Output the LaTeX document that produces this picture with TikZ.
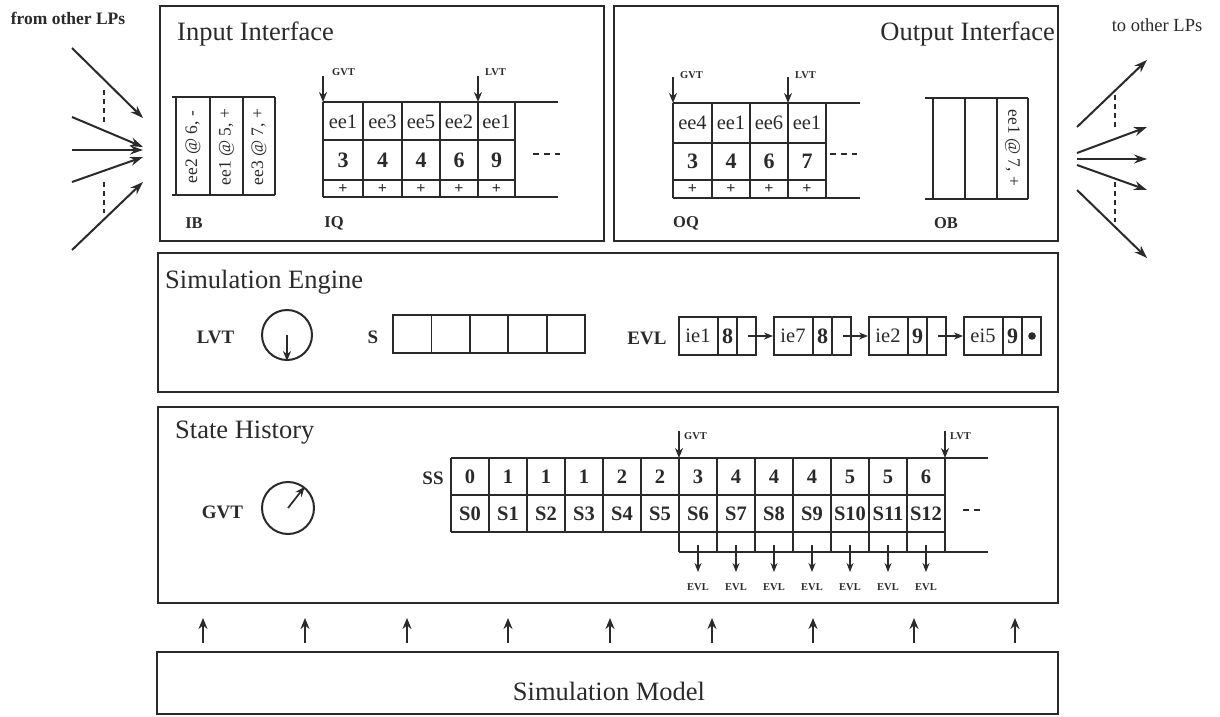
\documentclass[tikz,border=0pt]{standalone}
\usepackage{fontspec}
\setmainfont{Liberation Serif}
\usetikzlibrary{arrows.meta,calc}
\definecolor{ink}{HTML}{2A2A2A}
\newcommand\myfs[1]{\fontsize{#1}{#1}\selectfont}
\begin{document}
\begin{tikzpicture}[x=1pt,y=-1pt,
  panel/.style={draw=ink, line width=2.6pt, inner sep=0pt},
  grid/.style={draw=ink, line width=1.8pt},
  title/.style={font=\myfs{26.5}, text=ink, inner sep=0pt},
  lab/.style={font=\myfs{19}\bfseries, text=ink, inner sep=0pt},
  sublab/.style={font=\myfs{16.5}\bfseries, text=ink, inner sep=0pt},
  tiny/.style={font=\myfs{10.5}\bfseries, text=ink, inner sep=0pt},
  cell/.style={font=\myfs{20.5}, text=ink, inner sep=0pt},
  bcell/.style={font=\myfs{20.5}\bfseries, text=ink, inner sep=0pt},
  numcell/.style={font=\myfs{22}\bfseries, text=ink, inner sep=0pt},
  pluscell/.style={font=\myfs{16}\bfseries, text=ink, inner sep=0pt},
  rot/.style={font=\myfs{17.5}, text=ink, inner sep=0pt},
  arr/.style={draw=ink, line width=2pt, -{Stealth[length=13pt,width=9pt]}},
  marr/.style={draw=ink, line width=2.2pt, -{Stealth[length=11pt,width=9pt]}},
  sarr/.style={draw=ink, line width=1.7pt, -{Stealth[length=10pt,width=8pt]}},
  larr/.style={draw=ink, line width=1.5pt, -{Stealth[length=9pt,width=7pt]}},
  dsh/.style={draw=ink, line width=2pt, dash pattern=on 5pt off 4pt},
  dots/.style={draw=ink, line width=2pt, dash pattern=on 6pt off 5pt},
]
\useasboundingbox (0,0) rectangle (1220,717);

% ---------------- panels ----------------
\node[panel, minimum width=444pt, minimum height=235pt] (inp) at (382,123.5) {};
\node[panel, minimum width=444pt, minimum height=235pt] (outp) at (836,123.5) {};
\node[panel, minimum width=900pt, minimum height=139pt] (eng) at (608,322.5) {};
\node[panel, minimum width=900pt, minimum height=196pt] (hist) at (608,505) {};
\node[panel, minimum width=901pt, minimum height=62pt] (model) at (607.5,683) {};

\node[title, anchor=base west] (inpT) at (177,41) {Input Interface};
\node[title, anchor=base east] (outT) at (1055,41) {Output Interface};
\node[title, anchor=base west] (engT) at (165,288) {Simulation Engine};
\node[title, anchor=base west] (histT) at (175,438) {State History};
\node[title, anchor=base] (modT) at (609,700) {Simulation Model};

% ---------------- other LPs ----------------
\node[font=\myfs{17.5}\bfseries, text=ink, inner sep=0pt] (fromL) at (68,18) {from other LPs};
\node[font=\myfs{18.5}, text=ink, inner sep=0pt] (toL) at (1157,25) {to other LPs};
\foreach \ya/\yb [count=\i] in {48/118,117/147,150/150,182/157,250/182}{
  \coordinate (ls\i) at (72,\ya);
  \coordinate (le\i) at (143,\yb);
  \draw[arr] (ls\i) -- (le\i);
}
\coordinate (ld1) at (104,90); \coordinate (ld2) at (104,123);
\coordinate (ld3) at (104,182); \coordinate (ld4) at (104,213);
\draw[dsh] (ld1) -- (ld2); \draw[dsh] (ld3) -- (ld4);
\foreach \ya/\yb [count=\i] in {127/60,153/127,159/159,165/190,190/258}{
  \coordinate (rs\i) at (1077,\ya);
  \coordinate (re\i) at (1147,\yb);
  \draw[arr] (rs\i) -- (re\i);
}
\coordinate (rd1) at (1115,95); \coordinate (rd2) at (1115,127);
\coordinate (rd3) at (1115,182); \coordinate (rd4) at (1115,222);
\draw[dsh] (rd1) -- (rd2); \draw[dsh] (rd3) -- (rd4);

% ---------------- Input buffer IB ----------------
\draw[grid] (172,97) -- (275,97);
\draw[grid] (172,195) -- (275,195);
\foreach \x in {176,210,243,275} \draw[grid] (\x,97) -- (\x,195);
\node[rot, rotate=90] (ib1) at (193,147) {ee2 @ 6, -};
\node[rot, rotate=90] (ib2) at (226.5,147) {ee1 @ 5, +};
\node[rot, rotate=90] (ib3) at (259,147) {ee3 @ 7, +};
\node[sublab] (ibL) at (194,223) {IB};

% ---------------- Input queue IQ ----------------
\draw[grid] (323,102) -- (558,102);
\draw[grid] (323,197) -- (558,197);
\draw[grid] (323,140) -- (515,140);
\draw[grid] (323,180) -- (515,180);
\foreach \x in {323,363,402,440,478,515} \draw[grid] (\x,102) -- (\x,197);
\foreach \x/\t/\n [count=\i] in {343/ee1/3,382.5/ee3/4,421/ee5/4,459/ee2/6,496.5/ee1/9}{
  \node[cell] (iqe\i) at (\x,121.5) {\t};
  \node[numcell] (iqn\i) at (\x,160) {\n};
  \node[pluscell] (iqp\i) at (\x,188.5) {+};
}
\coordinate (iqg0) at (323,76); \coordinate (iqg1) at (323,102);
\coordinate (iql0) at (478,76); \coordinate (iql1) at (478,102);
\draw[sarr] (iqg0) -- (iqg1);
\draw[sarr] (iql0) -- (iql1);
\node[tiny, anchor=west] (iqgT) at (332,72) {GVT};
\node[tiny, anchor=west] (iqlT) at (485,72) {LVT};
\draw[dots] (533,154) -- (560,154);
\node[sublab] (iqL) at (334,223) {IQ};

% ---------------- Output queue OQ ----------------
\draw[grid] (673,103) -- (860,103);
\draw[grid] (673,198) -- (860,198);
\draw[grid] (673,143) -- (826,143);
\draw[grid] (673,180) -- (826,180);
\foreach \x in {673,712,750,788,826} \draw[grid] (\x,103) -- (\x,198);
\foreach \x/\t/\n [count=\i] in {692.5/ee4/3,731/ee1/4,769/ee6/6,807/ee1/7}{
  \node[cell] (oqe\i) at (\x,123) {\t};
  \node[numcell] (oqn\i) at (\x,161.5) {\n};
  \node[pluscell] (oqp\i) at (\x,189) {+};
}
\coordinate (oqg0) at (673,77); \coordinate (oqg1) at (673,103);
\coordinate (oql0) at (788,77); \coordinate (oql1) at (788,103);
\draw[sarr] (oqg0) -- (oqg1);
\draw[sarr] (oql0) -- (oql1);
\node[tiny, anchor=west] (oqgT) at (680,75) {GVT};
\node[tiny, anchor=west] (oqlT) at (795,75) {LVT};
\draw[dots] (830,154) -- (857,154);
\node[sublab] (oqL) at (686,223) {OQ};

% ---------------- Output buffer OB ----------------
\draw[grid] (925,98) -- (1028,98);
\draw[grid] (925,199) -- (1028,199);
\foreach \x in {933,965,997,1028} \draw[grid] (\x,98) -- (\x,199);
\node[rot, rotate=-90] (ob3) at (1012.5,148) {ee1 @ 7, +};
\node[sublab] (obL) at (946,223) {OB};

% ---------------- Simulation Engine ----------------
\node[lab] (lvtL) at (215.5,337) {LVT};
\node[draw=ink, line width=2pt, circle, minimum size=50pt, inner sep=0pt] (lvtC) at (287,335) {};
\draw[sarr] (lvtC.center) -- (lvtC.south);
\node[lab] (sL) at (373,337) {S};
\draw[grid] (393,315) rectangle (585,353);
\foreach \x in {431.4,469.8,508.2,546.6} \draw[grid] (\x,315) -- (\x,353);

\node[lab] (evlL) at (647,338) {EVL};
\foreach \x/\t/\n [count=\i] in {678/ie1/8,773/ie7/8,868/ie2/9,963/ei5/9}{
  \node[draw=ink, line width=1.8pt, minimum width=77pt, minimum height=38pt, inner sep=0pt, anchor=west] (ev\i) at (\x,336) {};
  \draw[grid] (\x+40,317) -- (\x+40,355);
  \draw[grid] (\x+59,317) -- (\x+59,355);
  \node[cell] (evt\i) at (\x+20,336) {\t};
  \node[numcell] (evn\i) at (\x+49.5,336) {\n};
  \coordinate (evp\i) at (\x+70,336);
}
\fill[ink] (1032,336) circle (3.8pt);
\draw[larr] (evp1) -- (ev2.west);
\draw[larr] (evp2) -- (ev3.west);
\draw[larr] (evp3) -- (ev4.west);

% ---------------- State History ----------------
\node[lab] (gvtL) at (222.5,512) {GVT};
\node[draw=ink, line width=2pt, circle, minimum size=52pt, inner sep=0pt] (gvtC) at (288,508) {};
\draw[sarr] (gvtC.center) -- (gvtC.52);
\node[lab] (ssL) at (433,478) {SS};
\draw[grid] (451,458) -- (988,458);
\draw[grid] (451,495) -- (945,495);
\draw[grid] (451,532) -- (945,532);
\draw[grid] (679,552) -- (988,552);
\foreach \i in {0,...,13} \draw[grid] (451+38*\i,458) -- (451+38*\i,532);
\foreach \i in {6,...,13} \draw[grid] (451+38*\i,532) -- (451+38*\i,552);
\foreach \v [count=\i from 0] in {0,1,1,1,2,2,3,4,4,4,5,5,6}{
  \node[bcell] (ssv\i) at (470+38*\i,476.5) {\v};
  \node[bcell] (sss\i) at (470+38*\i,513.5) {S\i};
}
\foreach \i in {6,...,12}{
  \coordinate (eva\i) at (470+38*\i,545);
  \coordinate (evb\i) at (470+38*\i,572);
  \draw[larr] (eva\i) -- (evb\i);
  \node[tiny] (evlab\i) at (470+38*\i,587) {EVL};
}
\coordinate (ssg0) at (679,431); \coordinate (ssg1) at (679,458);
\coordinate (ssl0) at (945,431); \coordinate (ssl1) at (945,458);
\draw[sarr] (ssg0) -- (ssg1);
\draw[sarr] (ssl0) -- (ssl1);
\node[tiny, anchor=west] (ssgT) at (684,436) {GVT};
\node[tiny, anchor=west] (sslT) at (950,436) {LVT};
\draw[dots] (963,510) -- (982,510);

% ---------------- model arrows ----------------
\foreach \x [count=\i] in {203,305,407,508,610,712,813,914,1015}{
  \coordinate (mu\i) at (\x,643);
  \coordinate (hd\i) at (\x,618);
  \draw[marr] (mu\i) -- (hd\i);
}
\end{tikzpicture}
\end{document}
